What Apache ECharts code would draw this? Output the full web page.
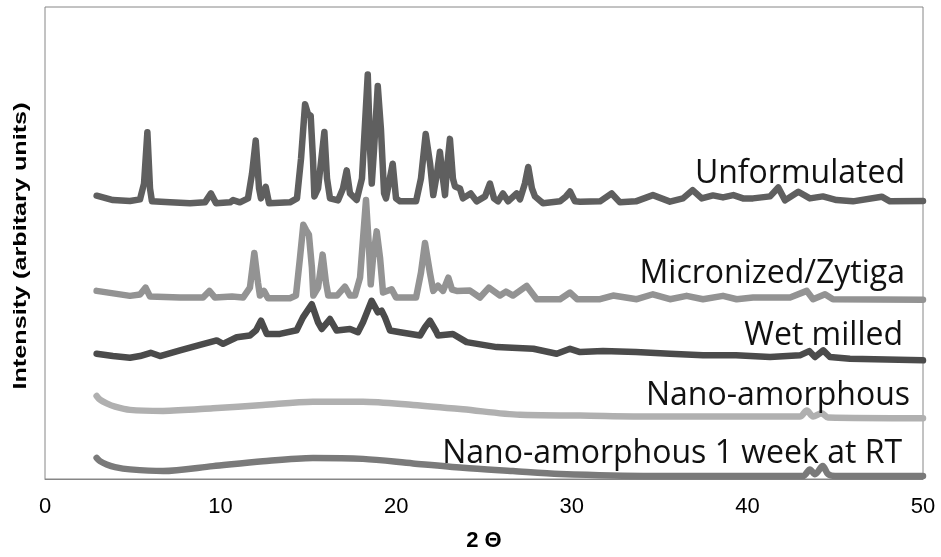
<!DOCTYPE html>
<html>
<head>
<meta charset="utf-8">
<script src="https://cdn.jsdelivr.net/npm/echarts@6/dist/echarts.min.js"></script>
<style>
    html, body { margin: 0; padding: 0; background: #fff; }
    #container { width: 941px; height: 557px; }
</style>
</head>
<body>
<div id="container"></div>
<script>
// 2 theta (deg) vs intensity, traces are stacked with their own offset
const unformulated = [
    [2.94, 285.7], [3.87, 281.3], [4.84, 280.3], [5.41, 282], [5.64, 298], [5.83, 349.7], [5.98, 293], [6.09, 280],
    [7.12, 279], [8.26, 278], [9.11, 279], [9.45, 288], [9.74, 278], [10.54, 279], [10.71, 281.3], [11.1, 279],
    [11.56, 283], [11.79, 308], [12.0, 341.3], [12.19, 293], [12.3, 283], [12.57, 294.7], [12.76, 278], [13.95, 279],
    [14.35, 283], [14.58, 323], [14.81, 378], [14.98, 368], [15.13, 366.3], [15.26, 323], [15.34, 285], [15.55, 293],
    [15.91, 350], [16.06, 303], [16.23, 283], [16.69, 281], [16.97, 293], [17.18, 311.3], [17.37, 288], [17.75, 281.3],
    [18.05, 303], [18.38, 408], [18.51, 333], [18.61, 298], [18.74, 333], [18.95, 396.3], [19.13, 353], [19.31, 288],
    [19.42, 283], [19.8, 318], [19.99, 283], [20.22, 280], [21.13, 280], [21.41, 303], [21.68, 348], [21.93, 318],
    [22.11, 286.3], [22.32, 308], [22.49, 330], [22.66, 303], [22.78, 286.3], [22.89, 313], [23.06, 343], [23.23, 303],
    [23.35, 295], [23.63, 293], [23.8, 283], [24.24, 288], [24.58, 280], [25.06, 285], [25.34, 298], [25.57, 283],
    [25.8, 280], [26.08, 288], [26.37, 280], [26.86, 288], [27.05, 282], [27.33, 298], [27.52, 314.7], [27.73, 293],
    [27.9, 285], [28.36, 278], [29.33, 280], [29.67, 285], [29.9, 290], [30.18, 280], [30.47, 279.7], [31.61, 280],
    [32.27, 288], [32.74, 279], [33.65, 280], [34.62, 286.3], [35.59, 279.7], [36.33, 283], [36.88, 291.3], [37.4, 283],
    [38.04, 286], [38.61, 284], [39.2, 286.3], [39.75, 283], [40.32, 283], [41.29, 285], [41.76, 294], [42.14, 281],
    [42.9, 289.7], [43.56, 283], [44.3, 285], [45.08, 281.3], [46.01, 280], [47.65, 284.7], [48.12, 280], [50.0, 280.3]
];

const micronized = [
    [2.94, 189.7], [4.84, 184.7], [5.41, 186], [5.73, 193], [5.98, 184], [7.69, 183], [9.0, 183], [9.36, 189.7],
    [9.68, 183], [10.65, 184], [11.28, 183], [11.67, 193], [11.92, 228], [12.13, 198], [12.24, 185], [12.47, 189.7],
    [12.7, 182.3], [13.95, 182.3], [14.29, 185], [14.52, 223], [14.71, 256.3], [14.87, 251], [15.03, 246.3], [15.2, 213],
    [15.28, 185], [15.55, 193], [15.81, 226.3], [16.0, 198], [16.13, 185], [16.63, 185], [17.08, 194], [17.37, 185],
    [17.65, 185], [17.94, 203], [18.28, 281.3], [18.45, 233], [18.55, 196.3], [18.68, 223], [18.89, 249.7], [19.08, 223],
    [19.25, 188], [19.36, 186], [19.74, 191.3], [19.99, 183], [21.13, 183], [21.41, 208], [21.64, 238], [21.92, 208],
    [22.11, 189.7], [22.38, 195], [22.67, 189.7], [22.97, 203], [23.18, 191], [23.45, 189.7], [24.2, 190], [24.77, 183],
    [25.28, 193], [25.91, 185], [26.25, 189], [26.65, 185], [27.43, 194.7], [28.0, 181.3], [29.33, 181.3], [29.9, 188],
    [30.3, 181.3], [31.61, 181.3], [32.35, 185], [33.7, 181.3], [34.62, 186.3], [35.59, 181.3], [36.54, 184.7], [37.47, 181.3],
    [38.61, 184.7], [39.39, 181.3], [40.32, 183], [41.29, 183], [42.43, 183], [43.38, 189.7], [43.74, 181.3], [44.42, 186.3],
    [44.87, 181.3], [50.0, 180.7]
];

const wetMilled = [
    [2.94, 126.3], [3.87, 124], [4.84, 122.3], [5.41, 124], [6.02, 127.3], [6.55, 124], [7.69, 129.7], [8.83, 135.3],
    [9.78, 139.7], [10.14, 136.3], [10.92, 143], [11.67, 144.7], [12.02, 150], [12.3, 159.7], [12.63, 146.3], [13.38, 146.3],
    [14.33, 150], [14.69, 163], [15.19, 176.3], [15.55, 158], [15.76, 151.3], [16.23, 161.3], [16.61, 149.7], [17.37, 151.3],
    [17.82, 148], [18.11, 158], [18.6, 179.7], [18.96, 168], [19.17, 169.7], [19.36, 163], [19.65, 149.7], [20.22, 148],
    [21.36, 144.7], [21.64, 153], [21.92, 159.7], [22.27, 149], [22.38, 144.7], [23.23, 146.3], [24.01, 138], [25.72, 133],
    [27.81, 131.3], [29.14, 126.3], [29.9, 131.3], [30.47, 128], [31.78, 129], [33.66, 128], [35.59, 126.3], [37.47, 124.7],
    [39.35, 124.7], [41.29, 123], [42.99, 124.7], [43.52, 129], [43.85, 123], [44.32, 129.7], [44.7, 123], [45.84, 121.3],
    [50.0, 119.7]
];

const nanoAmorphous = [
    [2.94, 83.7], [3.13, 80], [3.51, 76.3], [3.99, 73], [4.84, 69.7], [6.72, 68.7], [9.57, 71.3], [12.41, 74.7],
    [15.26, 78], [18.11, 78], [20.96, 74.7], [23.8, 70.3], [27.05, 64.7], [30.47, 64], [34.62, 63], [38.44, 63],
    [42.99, 63], [43.38, 69], [43.74, 63], [44.23, 66.3], [44.59, 62], [50.0, 61.3]
];

const nanoWeek = [
    [2.94, 21.3], [3.13, 18], [3.51, 14.7], [3.99, 12], [4.84, 9.7], [6.72, 8], [9.57, 13], [12.41, 18],
    [15.26, 21.3], [18.11, 20.3], [20.96, 15.7], [23.8, 11.3], [26.65, 8], [29.33, 5], [34.62, 3], [40.15, 3],
    [43.17, 3], [43.56, 9.7], [43.85, 4.7], [44.29, 13], [44.59, 5], [44.99, 3], [50.0, 3]
];

const seriesNames = ['Unformulated', 'Micronized/Zytiga', 'Wet milled', 'Nano-amorphous', 'Nano-amorphous 1 week at RT'];
const seriesData = [unformulated, micronized, wetMilled, nanoAmorphous, nanoWeek];

function draw_xrd() {
    let dom = document.getElementById('container');
    let myChart = echarts.init(dom, null, {renderer: 'canvas'});

    const colors = ['#5f5f5f', '#939393', '#4b4b4b', '#b0b0b0', '#7a7a7a'];
    const smooths = [false, false, false, 0.3, 0.3];
    // right edge and baseline of each trace label
    const labelPos = [[905, 185], [905, 285], [903, 347], [910, 407], [902, 465]];

    let series = seriesData.map(function (d, i) {
        return {
            name: seriesNames[i],
            type: 'line',
            data: d,
            symbol: 'none',
            smooth: smooths[i],
            lineStyle: {color: colors[i], width: 6.5, cap: 'round', join: 'round'},
            z: 2
        };
    });

    let labels = seriesNames.map(function (n, i) {
        return {
            type: 'text',
            x: labelPos[i][0],
            y: labelPos[i][1] - 11,
            z: 10,
            style: {
                text: n,
                align: 'right',
                verticalAlign: 'middle',
                font: '32px "Open Sans"',
                fill: '#111'
            }
        };
    });

    labels.push({
        type: 'text',
        x: 21,
        y: 246,
        rotation: Math.PI / 2,
        scaleX: 1.4,
        style: {
            text: 'Intensity (arbitary units)',
            align: 'center',
            verticalAlign: 'middle',
            font: 'bold 18px "Liberation Sans"',
            fill: '#000'
        }
    });

    let option = {
        animation: false,
        backgroundColor: '#fff',
        grid: {
            left: 45,
            right: 18,
            top: 7,
            bottom: 74,
            show: true,
            borderColor: '#868686',
            borderWidth: 1
        },
        xAxis: {
            type: 'value',
            min: 0,
            max: 50,
            interval: 10,
            name: '2 Θ',
            nameLocation: 'middle',
            nameGap: 51,
            nameTextStyle: {
                fontFamily: 'Liberation Sans',
                fontWeight: 'bold',
                fontSize: 22,
                color: '#000'
            },
            axisLine: {lineStyle: {color: '#868686', width: 1}},
            axisTick: {show: false},
            splitLine: {show: false},
            axisLabel: {
                margin: 17,
                fontFamily: 'Liberation Sans',
                fontSize: 22,
                color: '#000'
            }
        },
        yAxis: {
            type: 'value',
            min: 0,
            max: 476,
            axisLine: {show: false},
            axisTick: {show: false},
            axisLabel: {show: false},
            splitLine: {show: false}
        },
        graphic: labels,
        series: series
    };

    if (option && typeof option === 'object') {
        myChart.setOption(option, true);
    }
}

draw_xrd();
</script>
</body>
</html>
